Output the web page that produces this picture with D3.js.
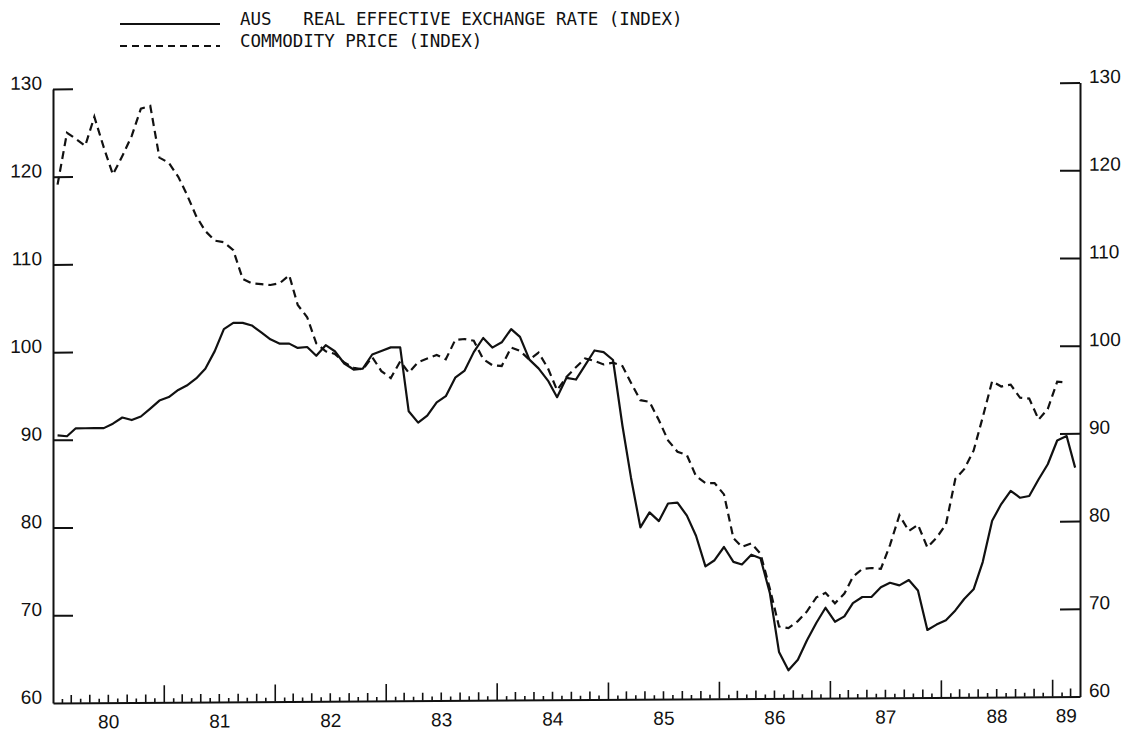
<!DOCTYPE html>
<html><head><meta charset="utf-8">
<script src="https://cdn.jsdelivr.net/npm/d3@7"></script>
<style>body{margin:0;background:#fff}svg{display:block}</style>
</head><body>
<svg id="c" width="1135" height="736"></svg>
<script>
// ---- data (monthly, Jan 1980 onward) ----
const yearLabels = ["80","81","82","83","84","85","86","87","88","89"];
const yTicks = [60,70,80,90,100,110,120,130];
const seriesNames = ["AUS   REAL EFFECTIVE EXCHANGE RATE (INDEX)", "COMMODITY PRICE (INDEX)"];
const firstMonth = [1980, 0];
const lastAxisMonth = [1989, 3];
const realExchangeRate = [
 90.5,90.4,91.3,91.3,91.3,91.3,91.8,92.5,92.2,92.6,93.5,94.4,
 94.8,95.6,96.1,96.9,98.0,100.0,102.5,103.2,103.2,102.9,102.1,101.3,
 100.8,100.8,100.3,100.4,99.4,100.6,99.9,98.5,97.8,97.9,99.5,99.9,
 100.3,100.3,93.0,91.7,92.5,94.0,94.7,96.8,97.6,99.7,101.3,100.2,
 100.8,102.3,101.4,98.8,97.8,96.4,94.5,96.7,96.5,98.1,99.8,99.6,
 98.7,91.2,85.3,79.6,81.3,80.3,82.3,82.4,80.9,78.6,75.1,75.8,
 77.3,75.6,75.3,76.4,76.0,72.0,65.3,63.2,64.4,66.6,68.6,70.3,
 68.7,69.3,70.8,71.5,71.5,72.6,73.1,72.8,73.4,72.2,67.7,68.3,
 68.8,69.9,71.2,72.3,75.4,80.1,82.0,83.5,82.7,82.9,84.8,86.5,
 89.2,89.7,86.1
];
const commodityPrice = [
 119.1,125.0,124.3,123.5,126.8,123.3,120.2,122.3,124.6,127.7,128.0,122.1,
 121.5,119.9,117.9,115.4,113.7,112.6,112.4,111.5,108.2,107.7,107.6,107.5,
 107.7,108.6,105.2,103.8,100.8,99.9,99.6,98.6,98.0,97.8,99.2,97.6,
 96.8,98.7,97.4,98.6,99.0,99.4,98.9,101.1,101.2,101.0,98.9,98.2,
 98.1,100.2,99.8,98.8,99.6,97.8,95.3,96.8,97.9,98.9,98.6,98.2,
 98.4,98.0,96.1,94.1,93.9,91.8,89.5,88.2,87.8,85.4,84.6,84.6,
 83.3,78.3,77.3,77.7,76.5,72.5,68.2,68.0,68.8,69.9,71.5,72.0,
 70.8,71.9,73.8,74.7,74.8,74.7,77.4,80.8,79.0,79.7,77.1,78.2,
 79.7,84.9,86.0,88.1,91.9,96.0,95.4,95.6,94.1,94.0,91.6,92.8,
 95.9,95.8
];

// ---- layout ----
const L = 53, R = 1080, T = 89, B = 703;
const svg = d3.select("#c");
const ink = "#111";
const start = new Date(firstMonth[0], firstMonth[1], 1);
const end = new Date(lastAxisMonth[0], lastAxisMonth[1], 1);
const x = d3.scaleTime().domain([start, end]).range([L, R]);
const y = d3.scaleLinear().domain([60, 130]).range([B, T]);
const monthMid = i => d3.timeDay.offset(d3.timeMonth.offset(start, i), 15);

const g = svg.append("g")
  .attr("transform", `translate(${L},${B}) skewY(-0.3626) translate(${-L},${-B})`);

const labelFont = "'Liberation Sans', Arial, sans-serif";

// left axis
const axL = g.append("g").attr("transform", `translate(${L},0)`)
  .call(d3.axisLeft(y).tickValues(yTicks).tickSize(-20).tickSizeOuter(0).tickPadding(11).tickFormat(d3.format("d")));
// right axis
const axR = g.append("g").attr("transform", `translate(${R},0)`)
  .call(d3.axisRight(y).tickValues(yTicks).tickSize(-20).tickSizeOuter(0).tickPadding(9).tickFormat(d3.format("d")));
[axL, axR].forEach(a => {
  a.selectAll("path,line").attr("stroke", ink).attr("stroke-width", 2);
  a.selectAll("text").attr("font-family", labelFont).attr("font-size", 19).attr("fill", ink).attr("y", -6);
});
axL.selectAll(".tick").filter(d => d === 60).select("line").remove();
axR.selectAll(".tick").filter(d => d === 60).select("line").remove();

// bottom axis
const axB = g.append("g").attr("transform", `translate(0,${B})`)
  .call(d3.axisBottom(x).tickValues([]).tickSizeOuter(0));
axB.select("path").attr("stroke", ink).attr("stroke-width", 2);
const months = d3.timeMonth.range(d3.timeMonth.offset(start, 1), end);
g.append("g").selectAll("line").data(months).join("line")
  .attr("x1", d => x(d)).attr("x2", d => x(d))
  .attr("y1", B)
  .attr("y2", d => B - (d.getMonth() === 0 ? 17 : (d.getMonth() % 2 === 0 ? 8 : 4)))
  .attr("stroke", ink).attr("stroke-width", 1.6);
// year labels
const yearStarts = yearLabels.map((s, i) => new Date(1980 + i, 0, 1));
g.append("g").selectAll("text").data(yearLabels).join("text")
  .attr("x", (d, i) => {
    const a = x(yearStarts[i]);
    const b = i < yearLabels.length - 1 ? x(yearStarts[i + 1]) : x(end);
    return (a + b) / 2;
  })
  .attr("y", B + 19)
  .attr("dy", "0.35em")
  .attr("text-anchor", "middle")
  .attr("font-family", labelFont).attr("font-size", 19).attr("fill", ink)
  .text(d => d);

// lines
const line = d3.line().x((d, i) => x(monthMid(i))).y(d => y(d));
g.append("path").datum(realExchangeRate).attr("d", line)
  .attr("fill", "none").attr("stroke", ink).attr("stroke-width", 2.2).attr("stroke-linejoin", "round");
g.append("path").datum(commodityPrice).attr("d", line)
  .attr("fill", "none").attr("stroke", ink).attr("stroke-width", 2.2).attr("stroke-dasharray", "8,5");

// legend
const leg = svg.append("g");
const legFont = "'DejaVu Sans Mono', monospace";
leg.append("line").attr("x1", 120).attr("x2", 220).attr("y1", 24).attr("y2", 24)
  .attr("stroke", ink).attr("stroke-width", 2);
leg.append("line").attr("x1", 120).attr("x2", 220).attr("y1", 46).attr("y2", 46)
  .attr("stroke", ink).attr("stroke-width", 2).attr("stroke-dasharray", "7,5");
leg.selectAll("text").data(seriesNames).join("text")
  .attr("x", 240).attr("y", (d, i) => 19 + i * 22).attr("dy", "0.35em")
  .attr("font-family", legFont).attr("font-size", 17.5).attr("fill", ink)
  .attr("xml:space", "preserve").style("white-space", "pre")
  .text(d => d);
</script>
</body></html>
